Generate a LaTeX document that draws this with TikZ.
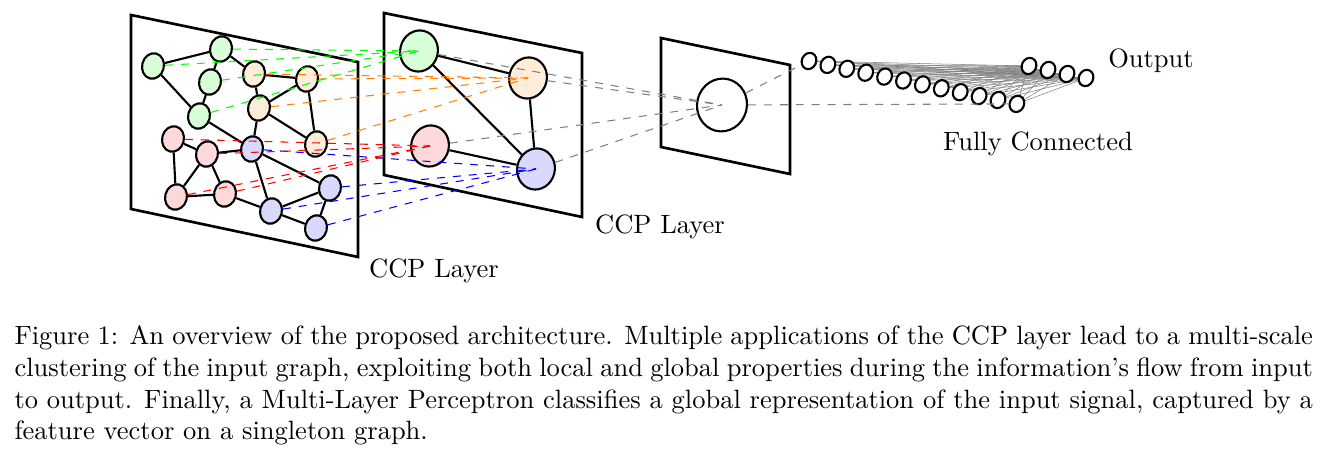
\documentclass[tikz,border=0pt]{standalone}
\usepackage{tikz}
\tikzset{>=latex}
\usetikzlibrary{shapes.geometric,backgrounds}

\begin{document}
\begin{tikzpicture}[x=0.3774pt,y=-0.3774pt]
      \tikzstyle{vertex}=[draw,thick,ellipse,inner sep=0pt,minimum width=8.2pt,minimum height=9.7pt,rotate=-14];
      \tikzstyle{cluster}=[vertex,minimum width=14.2pt,minimum height=15.6pt];
      \tikzstyle{fcunit}=[draw,thick,ellipse,fill=white,inner sep=0pt,minimum width=5.4pt,minimum height=6.3pt,rotate=-25];
      \tikzstyle{plane}=[line width=1pt];
      \tikzstyle{edge}=[thick];
      \tikzstyle{proj}=[dashed,thin];
      \useasboundingbox (0,0) rectangle (1328,455);

      % the three layers
      \draw[plane] (131,15) -- (358,62) -- (358,257) -- (131,209) -- cycle;
      \draw[plane] (384,13) -- (582,53) -- (582,217) -- (384,175) -- cycle;
      \draw[plane] (661,38) -- (790,65) -- (790,174) -- (661,147) -- cycle;

      % input graph
      \node[vertex,fill=green!15] (g1) at (153,66) {};
      \node[vertex,fill=green!15] (g2) at (221,49) {};
      \node[vertex,fill=green!15] (g3) at (210,82) {};
      \node[vertex,fill=green!15] (g4) at (199,116) {};
      \node[vertex,fill=orange!15] (o1) at (254,74) {};
      \node[vertex,fill=orange!15] (o2) at (307,79) {};
      \node[vertex,fill=orange!15] (o3) at (259,108) {};
      \node[vertex,fill=orange!15] (o4) at (316,144) {};
      \node[vertex,fill=red!15] (r1) at (173,139) {};
      \node[vertex,fill=red!15] (r2) at (207,154) {};
      \node[vertex,fill=red!15] (r3) at (176,197) {};
      \node[vertex,fill=red!15] (r4) at (225,194) {};
      \node[vertex,fill=blue!15] (b1) at (252,149) {};
      \node[vertex,fill=blue!15] (b2) at (330,188) {};
      \node[vertex,fill=blue!15] (b3) at (271,211) {};
      \node[vertex,fill=blue!15] (b4) at (316,228) {};
      \foreach \a/\b in {g1/g2,g1/g4,g2/g3,g3/g4,g2/o1,o1/o2,o1/o3,o3/o2,o2/o4,o3/o4,o3/b1,g4/b1,
                         r1/r2,r1/r3,r2/r3,r2/r4,r3/r4,r2/b1,b1/b3,b1/b2,r4/b3,b3/b2,b3/b4,b2/b4}
        \draw[edge] (\a) -- (\b);

      % first pooling
      \node[cluster,fill=green!15] (cg) at (419,51) {};
      \node[cluster,fill=orange!15] (co) at (528,78) {};
      \node[cluster,fill=red!15] (cr) at (430,146) {};
      \node[cluster,fill=blue!15] (cb) at (536,169) {};
      \draw[edge] (cg) -- (co);
      \draw[edge] (cg) -- (cb);
      \draw[edge] (co) -- (cb);
      \draw[edge] (cr) -- (cb);

      % second pooling
      \node[cluster,minimum width=18.8pt,minimum height=20pt] (pool) at (722,105) {};

      \foreach \i in {1,...,4} {
        \draw[proj,green] (g\i) -- (cg.center);
        \draw[proj,orange] (o\i) -- (co.center);
        \draw[proj,red] (r\i) -- (cr.center);
        \draw[proj,blue] (b\i) -- (cb.center);
      }
      \foreach \c in {cg,co,cr,cb}
        \draw[proj,gray] (\c) -- (pool.center);

      % fully connected part
      \foreach \i in {1,...,12}
        \node[fcunit] (fc\i) at ({809+18.9*(\i-1)},{61+3.9*(\i-1)}) {};
      \foreach \j in {1,...,4}
        \node[fcunit] (out\j) at ({1029+19*(\j-1)},{66+4*(\j-1)}) {};
      \begin{scope}[on background layer]
        \foreach \i in {1,...,12}
          \foreach \j in {1,...,4}
            \draw[gray,very thin] (fc\i.center) -- (out\j.center);
      \end{scope}
      \draw[proj,gray] (pool) -- (fc1);
      \draw[proj,gray] (pool) -- (fc12);

      \node (lab1) at (434,271) {CCP Layer};
      \node (lab2) at (660,227) {CCP Layer};
      \node (lab3) at (1151,61) {Output};
      \node (lab4) at (1038,144) {Fully Connected};

      \node[anchor=north west,inner sep=0pt,text width=490pt,align=justify] (caption) at (14,325)
        {Figure 1: An overview of the proposed architecture. Multiple applications of the CCP layer lead to a multi-scale clustering of the input graph, exploiting both local and global properties during the information's flow from input to output. Finally, a Multi-Layer Perceptron classifies a global representation of the input signal, captured by a feature vector on a singleton graph.};
    \end{tikzpicture}
\end{document}
